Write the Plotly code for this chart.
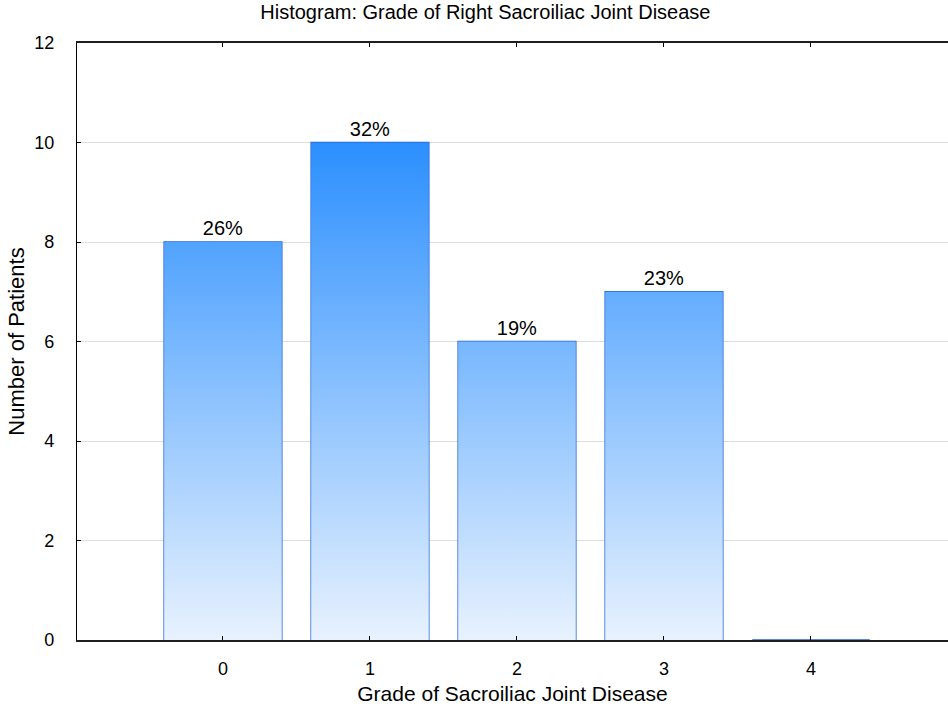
import plotly.graph_objects as go

# Grade of right sacroiliac joint disease: patient counts per grade
grades = [0, 1, 2, 3, 4]
patients = [8, 10, 6, 7, 0]
grade_labels = ["0", "1", "2", "3", "4"]

total = sum(patients)
pct_text = [f"{round(100 * n / total)}%" if n > 0 else "" for n in patients]

BAR_W = 0.8
FONT = "Liberation Sans, Arial, sans-serif"

# Gradient-filled bar bodies (one polygon per non-empty bar)
xs, ys = [], []
for g, n in zip(grades, patients):
    if n <= 0:
        continue
    x0, x1 = g - BAR_W / 2, g + BAR_W / 2
    xs += [x0, x1, x1, x0, x0, None]
    ys += [0, 0, n, n, 0, None]

fig = go.Figure()
fig.add_trace(go.Scatter(
    x=xs, y=ys, mode="lines", fill="toself",
    line=dict(width=0),
    fillgradient=dict(
        type="vertical",
        colorscale=[[0, "rgb(232,242,254)"], [1, "rgb(43,143,254)"]],
        start=0, stop=10,
    ),
    hoverinfo="skip", showlegend=False,
))

# Bar outlines and percentage labels
fig.add_trace(go.Bar(
    x=grades, y=patients, width=BAR_W,
    marker=dict(color="rgba(0,0,0,0)", line=dict(color="rgb(35,98,218)", width=1.5)),
    text=pct_text, textposition="outside", cliponaxis=False,
    textfont=dict(family=FONT, size=20, color="black"),
    showlegend=False,
))

fig.update_layout(
    width=948, height=707,
    margin=dict(l=77, r=0, t=43, b=67),
    paper_bgcolor="white", plot_bgcolor="white",
    font=dict(family=FONT, size=18, color="black"),
    title=dict(
        text="Histogram: Grade of Right Sacroiliac Joint Disease",
        x=0.512, xanchor="center", xref="container",
        y=0.983, yanchor="middle", yref="container",
        font=dict(family=FONT, size=20, color="black"),
    ),
    bargap=0.2,
)

fig.update_xaxes(
    range=[-0.993, 4.932],
    tickmode="array", tickvals=grades, ticktext=grade_labels,
    ticks="inside", ticklen=4, tickcolor="black", tickwidth=1,
    showline=True, linecolor="rgb(30,30,30)", linewidth=1.8, mirror="ticks",
    showgrid=False, zeroline=False,
    ticklabelstandoff=11,
    tickfont=dict(family=FONT, size=18),
    title=dict(text="Grade of Sacroiliac Joint Disease", standoff=9,
               font=dict(family=FONT, size=21)),
)

fig.update_yaxes(
    range=[0, 12], dtick=2,
    ticks="inside", ticklen=4, tickcolor="black",
    showline=True, linecolor="black", linewidth=1.2,
    showgrid=True, gridcolor="rgb(222,222,222)", gridwidth=1,
    zeroline=False,
    ticklabelstandoff=18,
    tickfont=dict(family=FONT, size=18),
    title=dict(text="Number of Patients", standoff=3,
               font=dict(family=FONT, size=22)),
)

fig.write_html("out.html")
